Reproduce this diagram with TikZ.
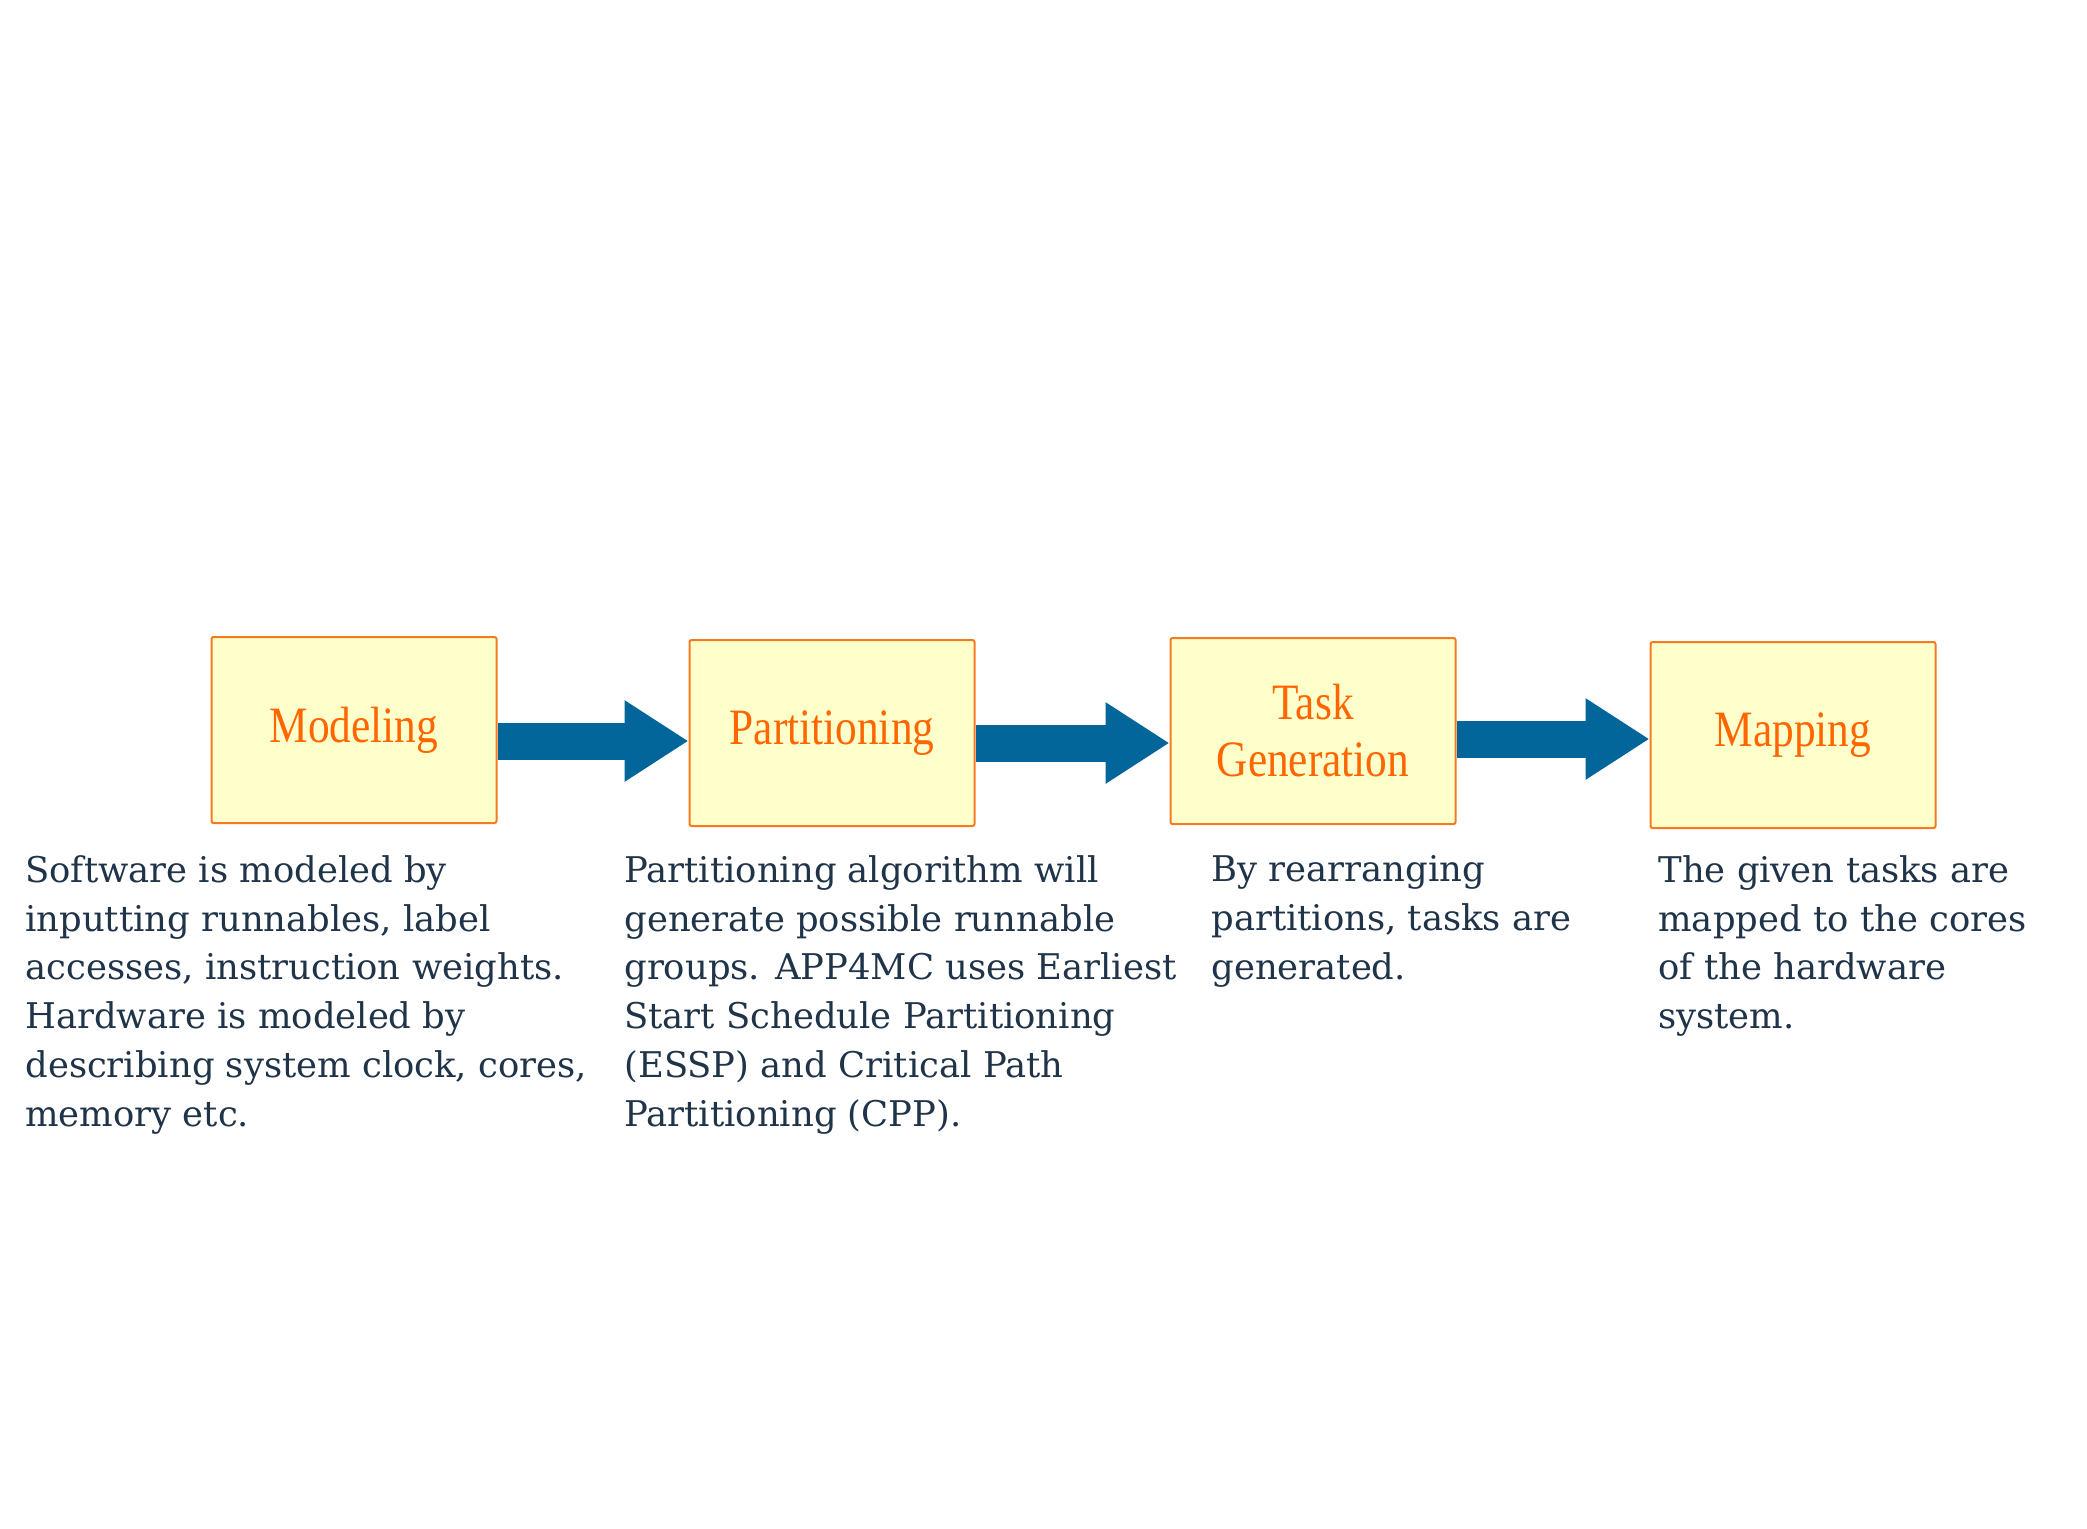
\documentclass[tikz,border=0pt]{standalone}
\usepackage{fontspec}
\setmainfont{DejaVu Serif}
\newfontfamily\stagefont[FakeStretch=0.85]{Liberation Serif}
\usepackage{xcolor}
\usetikzlibrary{arrows.meta, positioning}
\definecolor{StageFill}{HTML}{FFFFCC}
\definecolor{StageLine}{HTML}{F47B20}
\definecolor{StageText}{HTML}{FF6600}
\definecolor{FlowBlue}{HTML}{02669A}
\definecolor{NoteText}{HTML}{1F3349}

\begin{document}
\begin{tikzpicture}[
    x=0.5pt, y=-0.5pt,
    stage/.style={minimum width=142.5pt, minimum height=93pt, draw=StageLine, fill=StageFill, line width=1pt, rounded corners=1pt, text=StageText, align=center, font=\stagefont\fontsize{25.5pt}{28.5pt}\selectfont, inner sep=0pt},
    note/.style={anchor=north west, inner sep=0pt, align=left, text=NoteText, font=\fontsize{17.7pt}{24.4pt}\selectfont},
    flow/.style={draw=FlowBlue, line width=18.5pt, -{Triangle[width=38.5pt, length=32pt]}}
]
\useasboundingbox (0,0) rectangle (2087,1528);

% stages
\node[stage] (model) at (354, 730) {Modeling};
\node[stage] (part) at (832, 733) {Partitioning};
\node[stage] (task) at (1313, 731) {Task\\Generation};
\node[stage] (map) at (1793, 735) {Mapping};

% arrow levels
\coordinate (a1) at (0, 741);
\coordinate (a2) at (0, 743);
\coordinate (a3) at (0, 739);
\draw[flow] (model.east |- a1) -- (part.west |- a1);
\draw[flow] (part.east |- a2) -- (task.west |- a2);
\draw[flow] (task.east |- a3) -- (map.west |- a3);

% notes
\node[note] (modelnote) at (25, 855) {Software is modeled by\\inputting runnables, label\\accesses, instruction weights.\\Hardware is modeled by\\describing system clock, cores,\\memory etc.};
\node[note] (partnote) at (624, 855) {Partitioning algorithm will\\generate possible runnable\\groups. APP4MC uses Earliest\\Start Schedule Partitioning\\(ESSP) and Critical Path\\Partitioning (CPP).};
\node[note] (tasknote) at (1211, 855) {By rearranging\\partitions, tasks are\\generated.};
\node[note] (mapnote) at (1658, 855) {The given tasks are\\mapped to the cores\\of the hardware\\system.};
\end{tikzpicture}
\end{document}
